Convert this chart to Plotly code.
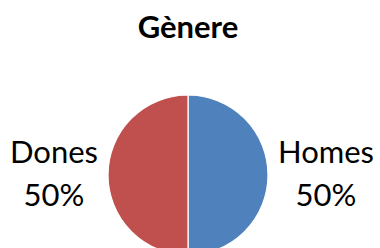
import math
import plotly.graph_objects as go

categories = ["Homes", "Dones"]
values = [50, 50]
colors = ["#4F81BD", "#C0504D"]

W, H = 380, 256
CX, CY, R = 188, 175, 80  # pie centre / radius in pixels (layout)
fig = go.Figure(go.Pie(
    labels=categories,
    values=values,
    marker=dict(colors=colors, line=dict(color="white", width=1.2)),
    sort=False,
    direction="clockwise",
    rotation=0,
    textinfo="none",
    showlegend=False,
    hoverinfo="skip",
    automargin=False,
    domain=dict(x=[(CX - R - 20) / W, (CX + R + 20) / W], y=[(H - CY - R) / H, (H - CY + R) / H]),
))

total = sum(values)
cum = 0
annotations = []
for lab, v in zip(categories, values):
    mid = (cum + v / 2) / total * 2 * math.pi  # clockwise from top
    cum += v
    dx = math.sin(mid)
    px = CX + (R + 7) * dx
    for txt, off in ((lab, -24), (f"{round(v / total * 100)}%", 19)):
        annotations.append(dict(
            text=txt,
            x=px / W, y=1 - (CY + off) / H, xref="paper", yref="paper",
            xanchor="left" if dx > 0 else "right", yanchor="middle",
            showarrow=False, align="center", width=98 if dx > 0 else 90,
            font=dict(family="Lato", size=31, color="black"),
        ))

fig.update_layout(
    width=W, height=H,
    margin=dict(l=0, r=0, t=0, b=0),
    paper_bgcolor="white",
    annotations=annotations,
    title=dict(text="<b>Gènere</b>", x=188 / W, xanchor="center", y=1 - 27 / H, yanchor="middle",
               font=dict(family="Lato", size=31, color="black")),
)
fig.write_html("out.html", config={"displayModeBar": False},
               post_script="document.body.style.margin='0';document.body.style.overflow='hidden';document.documentElement.style.overflow='hidden';")
